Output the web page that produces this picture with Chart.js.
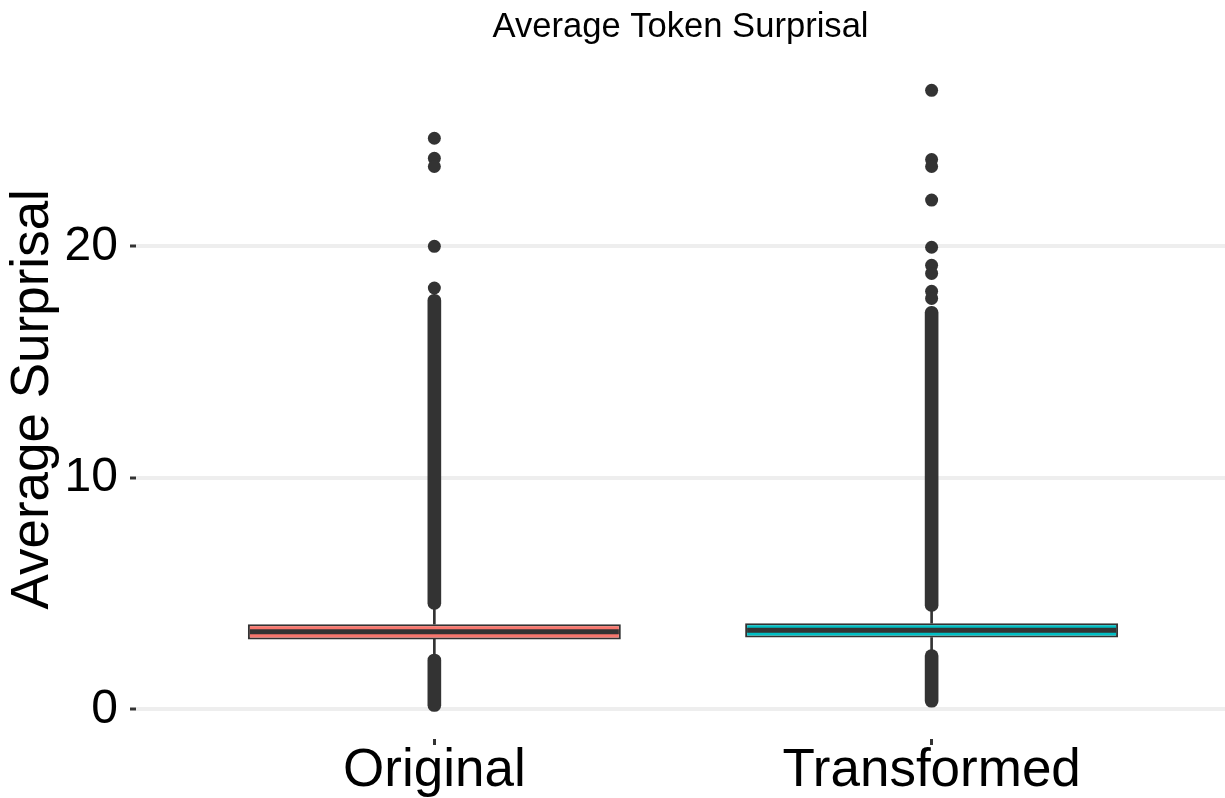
<!DOCTYPE html>
<html>
<head>
<meta charset="utf-8">
<script src="https://cdn.jsdelivr.net/npm/chart.js@4.4.1/dist/chart.umd.min.js"></script>
<style>
  html, body { margin: 0; padding: 0; background: #fff; }
  #wrap { width: 1225px; height: 798px; }
</style>
</head>
<body>
<div id="wrap"><canvas id="surprisalChart"></canvas></div>
<script>
// values
const categories = ['Original', 'Transformed'];
const q1 = [3.02, 3.10];
const medians = [3.35, 3.42];
const q3 = [3.68, 3.72];
const whiskerLow = [2.3, 2.5];
const whiskerHigh = [4.5, 4.4];
// dense stacks of outliers that merge into one solid column
const denseLow = [[-0.09, 2.39], [0.09, 2.58]];
const denseHigh = [[4.32, 17.93], [4.23, 17.41]];
// outliers that stand apart
const outliersOriginal = [24.67, 23.8, 23.45, 20.0, 18.2];
const outliersTransformed = [26.74, 23.75, 23.45, 22.0, 19.96, 19.18, 18.83, 18.06, 17.75];
const yTicks = [0, 10, 20];

const fillColors = ['#F8766D', '#00BFC4'];
const dark = '#333333';
const boxHalf = 0.375;
const font = '"Liberation Sans", Arial, Helvetica, sans-serif';

const xPos = categories.map((c, i) => i + 1);

const medianLine = [];
xPos.forEach((x, i) => {
    medianLine.push({ x: x - boxHalf + 0.004, y: medians[i] });
    medianLine.push({ x: x + boxHalf - 0.004, y: medians[i] });
    medianLine.push({ x: x + 0.5, y: null });
});

const outlierPoints = [];
outliersOriginal.forEach(v => outlierPoints.push({ x: xPos[0], y: v }));
outliersTransformed.forEach(v => outlierPoints.push({ x: xPos[1], y: v }));

const ctx = document.getElementById('surprisalChart').getContext('2d');
const surprisalChart = new Chart(ctx, {
    type: 'bar',
    data: {
        datasets: [
            {
                // whiskers
                label: 'whisker low',
                data: xPos.map((x, i) => ({ x: x, y: [whiskerLow[i], q1[i]] })),
                backgroundColor: dark,
                barThickness: 2,
                grouped: false,
                order: 6
            },
            {
                label: 'whisker high',
                data: xPos.map((x, i) => ({ x: x, y: [q3[i], whiskerHigh[i]] })),
                backgroundColor: dark,
                barThickness: 2,
                grouped: false,
                order: 6
            },
            {
                label: 'dense low',
                data: xPos.map((x, i) => ({ x: x, y: denseLow[i] })),
                backgroundColor: dark,
                barThickness: 13,
                borderRadius: 7,
                borderSkipped: false,
                grouped: false,
                order: 5
            },
            {
                label: 'dense high',
                data: xPos.map((x, i) => ({ x: x, y: denseHigh[i] })),
                backgroundColor: dark,
                barThickness: 13,
                borderRadius: 7,
                borderSkipped: false,
                grouped: false,
                order: 5
            },
            {
                label: 'box',
                data: xPos.map((x, i) => ({ x: x, y: [q1[i], q3[i]] })),
                backgroundColor: fillColors,
                borderColor: dark,
                borderWidth: 2,
                borderSkipped: false,
                barPercentage: 0.75,
                categoryPercentage: 1,
                grouped: false,
                order: 4
            },
            {
                type: 'line',
                label: 'median',
                data: medianLine,
                borderColor: dark,
                borderWidth: 5,
                pointRadius: 0,
                spanGaps: false,
                order: 3
            },
            {
                type: 'line',
                label: 'outliers',
                data: outlierPoints,
                showLine: false,
                pointRadius: 6.5,
                pointBackgroundColor: dark,
                pointBorderWidth: 0,
                order: 2
            }
        ]
    },
    options: {
        responsive: true,
        maintainAspectRatio: false,
        animation: false,
        layout: {
            autoPadding: false,
            padding: { left: 0, right: 0, top: 0, bottom: 0 }
        },
        scales: {
            x: {
                type: 'linear',
                min: 0.4,
                max: 2.59,
                offset: false,
                afterBuildTicks: axis => {
                    axis.ticks = xPos.map(v => ({ value: v }));
                },
                ticks: {
                    color: '#000',
                    padding: 0,
                    font: { family: font, size: 53, lineHeight: 1 },
                    callback: v => categories[Math.round(v) - 1]
                },
                grid: {
                    offset: false,
                    drawOnChartArea: false,
                    tickLength: 6,
                    tickColor: dark,
                    tickWidth: 3
                },
                border: { display: false }
            },
            y: {
                min: -1.28,
                max: 28.07,
                afterBuildTicks: axis => {
                    axis.ticks = yTicks.map(v => ({ value: v }));
                },
                ticks: {
                    color: '#000',
                    padding: 12,
                    font: { family: font, size: 48 }
                },
                grid: {
                    color: '#EEEEEE',
                    lineWidth: 4,
                    tickLength: 6,
                    tickColor: dark,
                    tickWidth: 3
                },
                border: { display: false },
                title: {
                    display: true,
                    text: 'Average Surprisal',
                    color: '#000',
                    padding: { top: 2, bottom: -13 },
                    font: { family: font, size: 53 }
                }
            }
        },
        plugins: {
            legend: { display: false },
            tooltip: { enabled: false },
            title: {
                display: true,
                text: 'Average Token Surprisal',
                color: '#000',
                fullSize: false,
                padding: { top: 7, bottom: 11 },
                font: { family: font, size: 34.6, weight: 'normal' }
            }
        }
    }
});
</script>
</body>
</html>
